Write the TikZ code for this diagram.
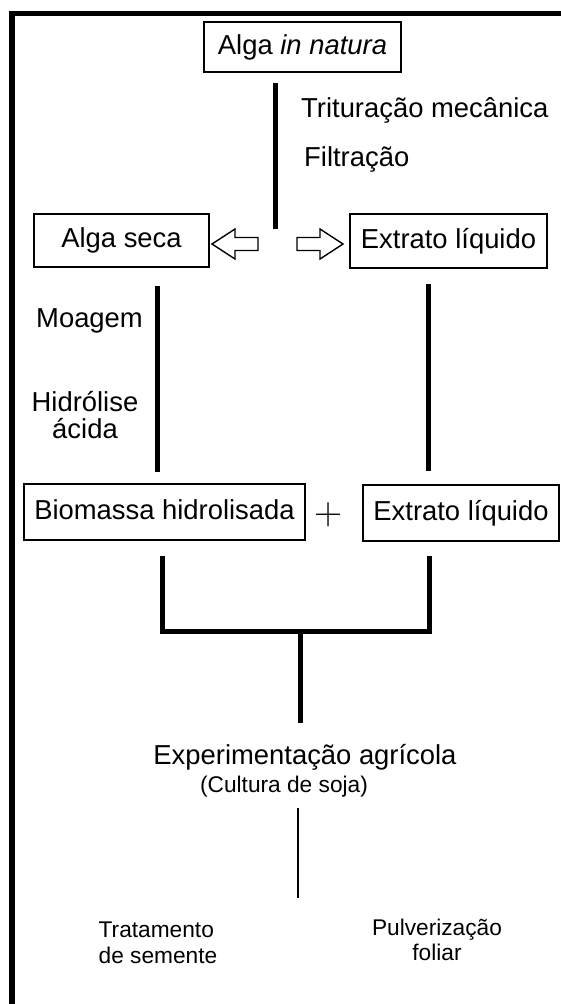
\documentclass[tikz,border=0pt]{standalone}
\usepackage{fontspec}
\setmainfont{Liberation Sans}
\newfontfamily\plusfont{Latin Modern Roman}
\usetikzlibrary{positioning, calc}
\tikzset{
x=1pt, y=-1pt, % one unit is one pixel of the scan, y grows downwards
on grid, % node distances are measured centre to centre
box/.style={draw, line width=1.4pt, inner sep=0pt, text height=20pt, text depth=6pt,
  font=\fontsize{27.4pt}{27.4pt}\selectfont}, % the framed steps
bigtext/.style={inner sep=0pt, font=\fontsize{27.4pt}{27.4pt}\selectfont}, % process names
smalltext/.style={inner sep=0pt, font=\fontsize{22.7pt}{25.5pt}\selectfont}, % small notes
link/.style={line width=5pt}, % the thick connectors
openarrow/.style={draw, line width=1.4pt, line join=miter}, % hollow block arrows
}

\begin{document}
\begin{tikzpicture}
        \useasboundingbox (0,0) rectangle (561,1004);
        \clip (0,0) rectangle (561,1004);

        % outer frame, only its left and top sides are seen
        \draw[line width=5.5pt] (12,1010) -- (12,13.5) -- (570,13.5);

        \node[box, minimum width=197, minimum height=50] (alga) at (302.5,47) {Alga \textit{in natura}};
        \node[box, minimum width=175, minimum height=53, below left=193.5pt and 181pt of alga] (seca) {Alga seca};
        \node[box, minimum width=197, minimum height=54, below right=194pt and 146pt of alga] (extA) {Extrato líquido};
        \node[box, minimum width=281, minimum height=56, below right=271.5pt and 43pt of seca] (bio) {Biomassa hidrolisada};
        \node[box, minimum width=196, minimum height=56, right=296.5pt of bio, yshift=-1pt] (extB) {Extrato líquido};
        \node[inner sep=0pt, font=\plusfont\fontsize{39pt}{39pt}\selectfont,
              right=164.5pt of bio, yshift=-3pt] (plus) {+};

        \node[bigtext, anchor=mid west] (trit) at (301,115) {Trituração mecânica};
        \node[bigtext, anchor=mid west] (filt) at (304,164) {Filtração};
        \node[bigtext, anchor=mid west] (moag) at (36,325) {Moagem};
        \node[bigtext, align=center] (hidr) at (85,415) {Hidrólise\\ácida};

        \node[bigtext, anchor=mid] (expe) at (305,762) {Experimentação agrícola};
        \node[smalltext, anchor=mid] (soja) at (284,790) {(Cultura de soja)};
        \node[smalltext, align=left] (trat) at (158,943) {Tratamento\\de semente};
        \node[smalltext, align=center] (pulv) at (437,940) {Pulverização\\foliar};

        \coordinate (cut1) at (275,83);
        \coordinate (cut2) at (275,229);
        \coordinate (split) at (275,244);
        \coordinate (moa1) at (157,286);
        \coordinate (moa2) at (157,472);
        \coordinate (ext1) at (428,284);
        \coordinate (ext2) at (428,471);
        \coordinate (join1) at (162,556);
        \coordinate (join2) at (429,556);
        \coordinate (mid1) at (300.5,631);
        \coordinate (mid2) at (300.5,723);
        \coordinate (exp1) at (298,808);
        \coordinate (exp2) at (298,898);

        \draw[link] (cut1) -- (cut2);
        \draw[link] (moa1) -- (moa2);
        \draw[link] (ext1) -- (ext2);
        \draw[link, line join=miter] (join1) -- (join1 |- mid1) -- (join2 |- mid1) -- (join2);
        \draw[link] (mid1) -- (mid2);
        \draw[line width=2pt] (exp1) -- (exp2);

        % hollow arrows towards the two products
        \draw[openarrow, shift={(split)}] (-63,0) -- (-40,-15) -- (-40,-6.5) -- (-17,-6.5)
              -- (-17,6.5) -- (-40,6.5) -- (-40,15) -- cycle;
        \draw[openarrow, shift={(split)}] (68,0) -- (45,-15) -- (45,-6.5) -- (22,-6.5)
              -- (22,6.5) -- (45,6.5) -- (45,15) -- cycle;
    \end{tikzpicture}
\end{document}
